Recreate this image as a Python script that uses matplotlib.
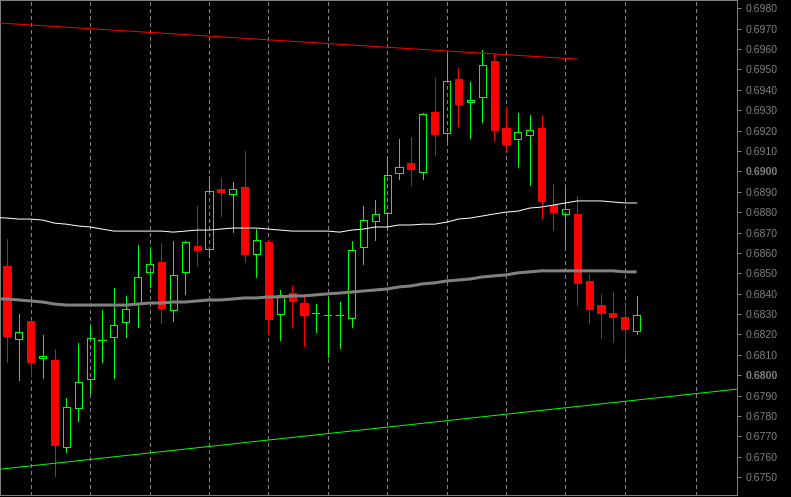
import numpy as np
import matplotlib
matplotlib.use("Agg")
import matplotlib.pyplot as plt

plt.rcParams['font.family'] = ['Liberation Sans', 'DejaVu Sans']

# OHLC candles
opens = [0.68535, 0.68177, 0.68266, 0.68085, 0.68074, 0.67647, 0.67839, 0.67981, 0.68172, 0.68187,
         0.68261, 0.68354, 0.68506, 0.68555, 0.68320, 0.68506, 0.68634, 0.68619, 0.68913, 0.68889,
         0.68923, 0.68594, 0.68653, 0.68300, 0.68403, 0.68354, 0.68305, 0.68295, 0.68295, 0.68280,
         0.68629, 0.68756, 0.68796, 0.68992, 0.69041, 0.68997, 0.69291, 0.69188, 0.69453, 0.69341,
         0.69365, 0.69541, 0.69213, 0.69159, 0.69178, 0.69213, 0.68835, 0.68791, 0.68791, 0.68462,
         0.68344, 0.68305, 0.68285, 0.68216]
highs = [0.68668, 0.68300, 0.68270, 0.68197, 0.68128, 0.67888, 0.68158, 0.68241, 0.68320, 0.68428,
         0.68388, 0.68639, 0.68629, 0.68648, 0.68658, 0.68658, 0.68830, 0.68977, 0.68967, 0.68948,
         0.69100, 0.68717, 0.68663, 0.68418, 0.68437, 0.68398, 0.68349, 0.68383, 0.68359, 0.68658,
         0.68830, 0.68859, 0.69070, 0.69159, 0.69168, 0.69286, 0.69458, 0.69571, 0.69507, 0.69438,
         0.69595, 0.69576, 0.69316, 0.69286, 0.69276, 0.69276, 0.68938, 0.68923, 0.68879, 0.68496,
         0.68398, 0.68408, 0.68339, 0.68388]
lows = [0.68064, 0.67976, 0.67996, 0.67986, 0.67505, 0.67623, 0.67775, 0.67912, 0.68064, 0.67986,
        0.68187, 0.68236, 0.68432, 0.68256, 0.68266, 0.68398, 0.68535, 0.68580, 0.68781, 0.68702,
        0.68555, 0.68481, 0.68202, 0.68172, 0.68236, 0.68143, 0.68212, 0.68089, 0.68133, 0.68236,
        0.68545, 0.68663, 0.68712, 0.68962, 0.68933, 0.68962, 0.69080, 0.69149, 0.69222, 0.69164,
        0.69242, 0.69154, 0.69105, 0.69021, 0.68933, 0.68771, 0.68712, 0.68634, 0.68344, 0.68256,
        0.68182, 0.68163, 0.68084, 0.68202]
closes = [0.68192, 0.68212, 0.68064, 0.68093, 0.67657, 0.67844, 0.67966, 0.68182, 0.68172, 0.68246,
          0.68324, 0.68481, 0.68545, 0.68329, 0.68491, 0.68653, 0.68614, 0.68903, 0.68900, 0.68913,
          0.68594, 0.68663, 0.68275, 0.68393, 0.68364, 0.68295, 0.68305, 0.68295, 0.68295, 0.68614,
          0.68761, 0.68791, 0.68982, 0.69021, 0.69011, 0.69281, 0.69183, 0.69443, 0.69330, 0.69350,
          0.69522, 0.69203, 0.69134, 0.69193, 0.69203, 0.68854, 0.68800, 0.68815, 0.68452, 0.68324,
          0.68305, 0.68285, 0.68226, 0.68295]

# moving averages, first value belongs to the bar just left of the window
ma_fast = [0.68774, 0.68771, 0.68766, 0.68766, 0.68761, 0.68746, 0.68741, 0.68732, 0.68727, 0.68717,
           0.68707, 0.68707, 0.68707, 0.68707, 0.68707, 0.68702, 0.68707, 0.68712, 0.68712, 0.68717,
           0.68722, 0.68722, 0.68722, 0.68717, 0.68712, 0.68707, 0.68707, 0.68707, 0.68707, 0.68702,
           0.68712, 0.68717, 0.68727, 0.68727, 0.68737, 0.68737, 0.68741, 0.68741, 0.68751, 0.68766,
           0.68771, 0.68781, 0.68791, 0.68800, 0.68805, 0.68820, 0.68825, 0.68835, 0.68845, 0.68855,
           0.68855, 0.68855, 0.68850, 0.68845, 0.68845]
ma_slow = [0.68374, 0.68374, 0.68369, 0.68364, 0.68359, 0.68349, 0.68344, 0.68344, 0.68344, 0.68344,
           0.68344, 0.68344, 0.68349, 0.68354, 0.68354, 0.68359, 0.68359, 0.68364, 0.68369, 0.68369,
           0.68374, 0.68379, 0.68379, 0.68384, 0.68384, 0.68389, 0.68389, 0.68394, 0.68399, 0.68403,
           0.68408, 0.68413, 0.68418, 0.68423, 0.68433, 0.68438, 0.68448, 0.68453, 0.68462, 0.68467,
           0.68472, 0.68482, 0.68487, 0.68492, 0.68502, 0.68507, 0.68512, 0.68512, 0.68512, 0.68512,
           0.68512, 0.68512, 0.68512, 0.68507, 0.68507]

# trendline anchors (bar index, price)
red_trend_x = [-0.6, 48.0]
red_trend_y = [0.69728, 0.69551]
green_trend_x = [-1.0, 62.0]
green_trend_y = [0.67536, 0.67935]

# period separators (bar index)
separators = [2, 7, 12, 17, 22, 27, 32, 37, 42, 47, 52, 58]

o = np.array(opens)
h = np.array(highs)
l = np.array(lows)
c = np.array(closes)
idx = np.arange(len(o))
up = c >= o
top = np.maximum(o, c)
bot = np.minimum(o, c)
cols = np.where(up, '#00ff00', '#ff0000')

px = 0.72
fig = plt.figure(figsize=(7.91, 4.97), dpi=100, facecolor='black')
ax = fig.add_axes([0, 2 / 497, 737 / 791, 495 / 497], facecolor='black')

for s in separators:
    ax.axvline(s, color='#808080', lw=px, dashes=(3, 3), zorder=1, antialiased=False)

# wicks above and below the body
ax.vlines(idx, top, h, colors=cols, lw=px, zorder=2, antialiased=False)
ax.vlines(idx, l, bot, colors=cols, lw=px, zorder=2, antialiased=False)

# bodies
w = 0.6
ax.bar(idx[~up], (top - bot)[~up], bottom=bot[~up], width=w, color='#ff0000',
       edgecolor='#ff0000', lw=px, zorder=2, antialiased=False)
ax.bar(idx[up], (top - bot)[up], bottom=bot[up], width=w, facecolor='none',
       edgecolor='#00ff00', lw=px, zorder=2, antialiased=False)

ma_x = np.arange(-1, len(o))
ax.plot(ma_x, ma_slow, color='#808080', lw=2.2, zorder=3, solid_capstyle='butt')
ax.plot(ma_x, ma_fast, color='white', lw=px, zorder=4)

ax.plot(red_trend_x, red_trend_y, color='#ff0000', lw=px, zorder=4)
ax.plot(green_trend_x, green_trend_y, color='#00ff00', lw=px, zorder=4)

ax.set_xlim(-0.59, 61.45)
ax.set_ylim(0.67412, 0.69841)

ticks = np.round(np.arange(0.6750, 0.69805, 0.001), 4)
ax.set_yticks(ticks)
ax.set_yticklabels([f"{t:.4f}" for t in ticks])
ax.set_xticks([])
ax.yaxis.tick_right()
ax.tick_params(axis='y', colors='#808080', length=3, width=px, pad=3, labelsize=7.6)
for lab in ax.get_yticklabels():
    if lab.get_text() in ('0.6900', '0.6800'):
        lab.set_fontweight('bold')

for sp in ax.spines.values():
    sp.set_color('#808080')
    sp.set_linewidth(px)

fig.savefig('out.png', dpi=100, facecolor='black')
